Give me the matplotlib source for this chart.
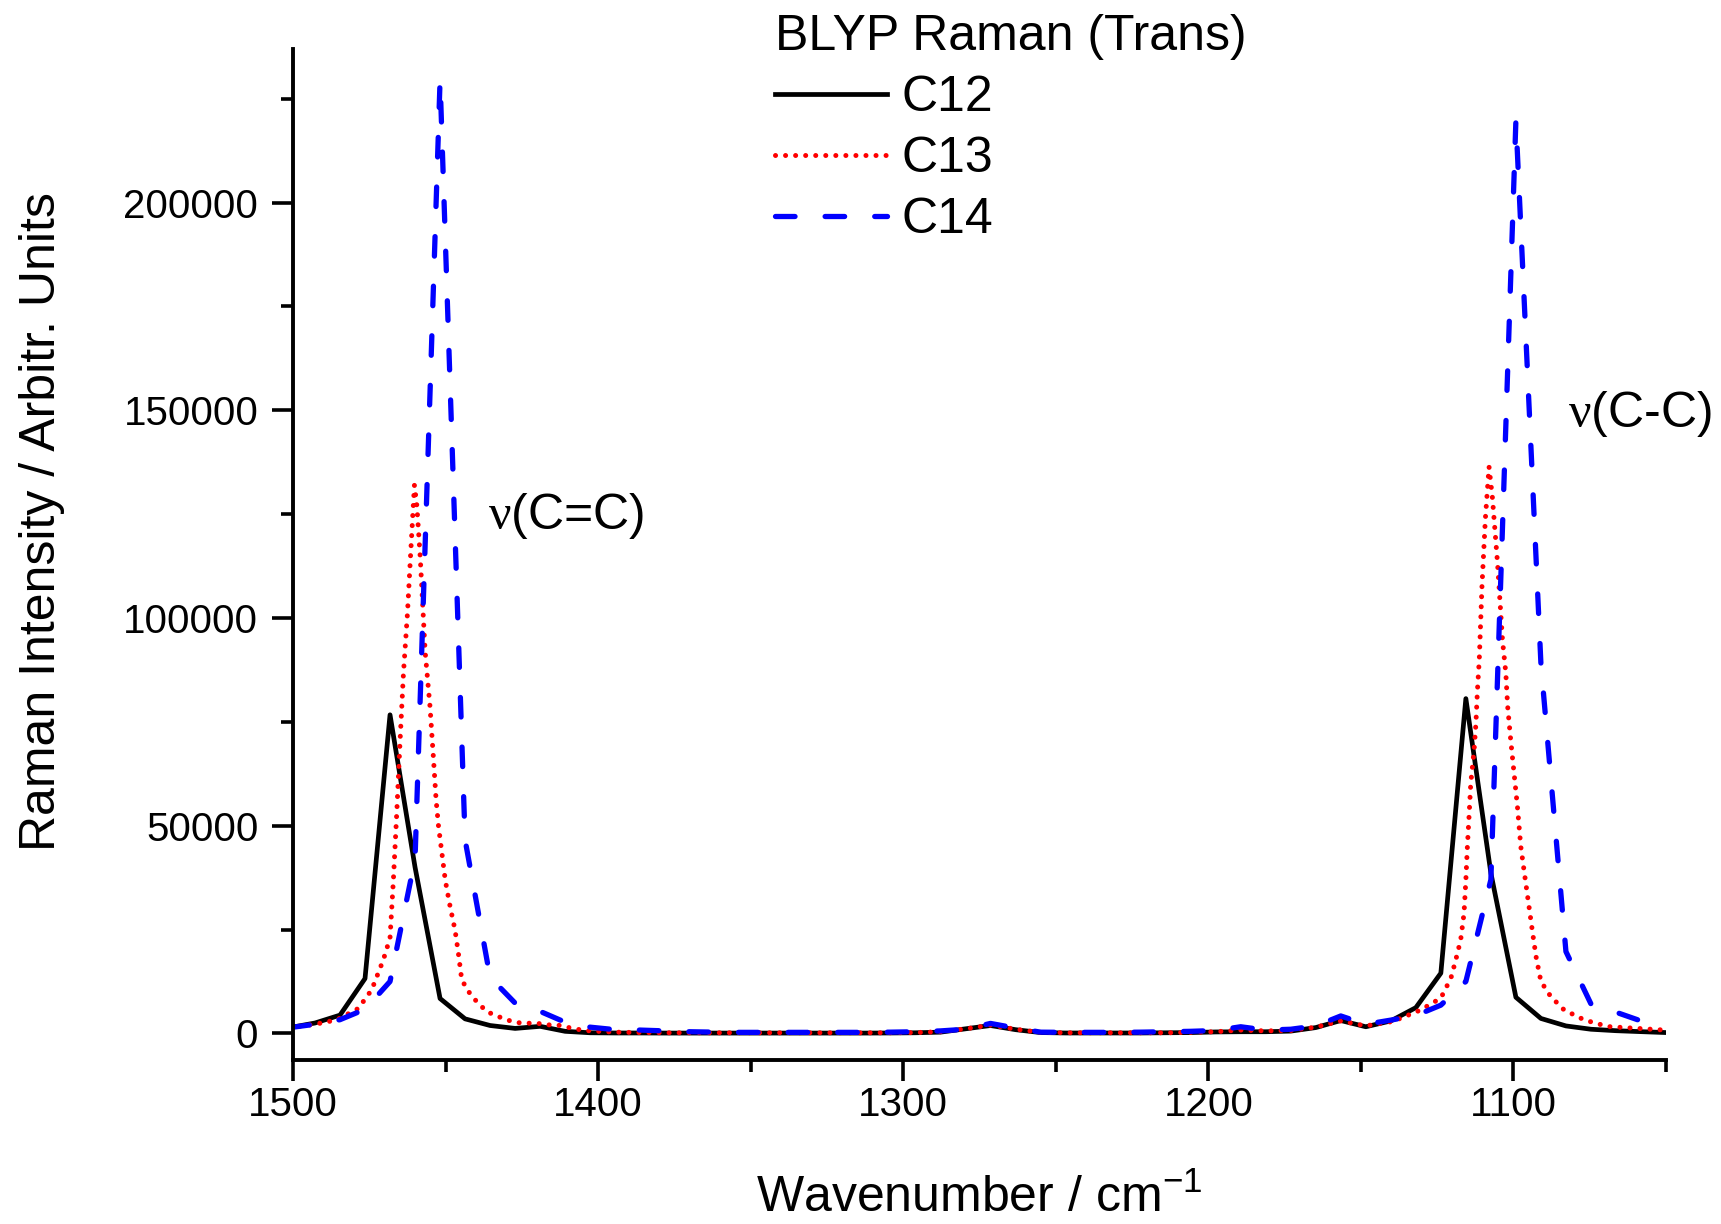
import matplotlib
matplotlib.use('Agg')
import matplotlib.pyplot as plt
from matplotlib.ticker import MultipleLocator, FormatStrFormatter

plt.rcParams['font.family'] = ['Liberation Sans', 'DejaVu Sans']
plt.rcParams['mathtext.fontset'] = 'custom'
plt.rcParams['mathtext.rm'] = 'Liberation Serif'
plt.rcParams['mathtext.sf'] = 'Liberation Sans'

# wavenumber grid shared by C12 and C14 (cm-1)
wn_grid = [1501.0, 1492.8, 1484.6, 1476.4, 1468.2, 1460.0, 1451.8, 1443.6, 1435.4, 1427.2,
           1419.0, 1410.8, 1402.6, 1394.4, 1386.2, 1378.0, 1369.8, 1361.6, 1353.4, 1345.2,
           1337.0, 1328.8, 1320.6, 1312.4, 1304.2, 1296.0, 1287.8, 1279.6, 1271.4, 1263.2,
           1255.0, 1246.8, 1238.6, 1230.4, 1222.2, 1214.0, 1205.8, 1197.6, 1189.4, 1181.2,
           1173.0, 1164.8, 1156.6, 1148.4, 1140.2, 1132.0, 1123.8, 1115.6, 1107.4, 1099.2,
           1091.0, 1082.8, 1074.6, 1066.4, 1058.2, 1050.0]

c12 = [1400, 2500, 4400, 13200, 76700, 40000, 8400, 3500, 1900, 1200,
       1700, 500, 150, 100, 100, 80, 80, 80, 80, 80,
       80, 80, 80, 80, 100, 150, 300, 1100, 1900, 900,
       200, 100, 100, 100, 100, 150, 200, 350, 400, 400,
       550, 1400, 3100, 1600, 3000, 6200, 14500, 80600, 38600, 8700,
       3600, 1800, 1000, 650, 420, 200]

c14 = [1400, 2200, 3300, 5800, 12500, 42000, 229500, 46600, 13500, 7300,
       5300, 2700, 1500, 900, 800, 600, 400, 300, 250, 250,
       250, 250, 250, 250, 300, 400, 600, 1000, 2400, 1300,
       300, 250, 250, 250, 300, 400, 500, 700, 1600, 800,
       1000, 1800, 4200, 2200, 3200, 4300, 6800, 12500, 37000, 219800,
       89000, 19700, 7100, 5100, 3000, 2000]

# C13 read more densely (smooth curve in the original)
wn_c13 = [1501.0, 1492.8, 1485.7, 1478.6, 1474.2, 1470.4, 1468.2, 1467.1, 1466.0, 1464.9,
          1463.8, 1462.5, 1461.4, 1460.2, 1459.4, 1458.3, 1456.7, 1455.1, 1454.0, 1453.1,
          1452.3, 1451.2, 1450.1, 1448.5, 1446.9, 1445.8, 1444.7, 1442.5, 1439.8, 1436.5,
          1433.2, 1429.9, 1426.6, 1423.4, 1420.1, 1416.8, 1413.5, 1410.2, 1407.0, 1402.6,
          1394.4, 1386.2, 1378.0, 1369.8, 1361.6, 1353.4, 1345.2, 1337.0, 1328.8, 1320.6,
          1312.4, 1304.2, 1296.0, 1287.8, 1279.6, 1271.4, 1263.2, 1255.0, 1246.8, 1238.6,
          1230.4, 1222.2, 1214.0, 1205.8, 1197.6, 1189.4, 1181.2, 1173.0, 1164.8, 1156.6,
          1148.4, 1140.2, 1136.9, 1130.4, 1123.8, 1120.5, 1118.9, 1117.3, 1116.2, 1115.6,
          1115.1, 1114.5, 1114.0, 1112.9, 1112.3, 1111.8, 1111.2, 1110.3, 1109.2, 1108.0,
          1106.9, 1105.2, 1103.6, 1102.5, 1101.9, 1100.9, 1099.8, 1098.7, 1097.6, 1096.1,
          1094.9, 1093.7, 1092.6, 1091.0, 1087.8, 1083.4, 1076.8, 1069.1, 1060.4, 1051.5,
          1050.0]

c13 = [1400, 2200, 3250, 6000, 10500, 17700, 23000, 36900, 53000, 70600,
       86700, 101000, 116000, 132000, 127000, 114600, 92000, 78700, 66600, 56200,
       49800, 43400, 36900, 30500, 24900, 19300, 12900, 10100, 7650, 5250,
       4200, 3250, 2600, 2450, 2450, 2050, 2050, 1500, 1000, 600,
       300, 200, 150, 150, 150, 150, 150, 150, 150, 150,
       150, 150, 200, 400, 1100, 2000, 1000, 250, 150, 150,
       150, 150, 150, 250, 400, 800, 600, 700, 1500, 3000,
       1800, 2800, 3650, 5650, 8500, 13300, 17700, 22500, 28900, 36900,
       45000, 53000, 60200, 68200, 74700, 82700, 90000, 108000, 124000, 136400,
       129000, 113000, 94700, 86700, 78700, 70600, 62600, 54600, 45000, 36900,
       30500, 24100, 18500, 12500, 8900, 5650, 3250, 1650, 1250, 850,
       800]

fig = plt.figure(figsize=(17.21, 12.24), dpi=100)
ax = fig.add_axes([0.17025, 0.134, 0.7978, 0.826])

ax.plot(wn_grid, c12, color='black', lw=3.4, label='C12')
ax.plot(wn_c13, c13, color='#ff0000', lw=3.6, linestyle=(0, (0.01, 2.0)),
        dash_capstyle='round', label='C13')
ax.plot(wn_grid, c14, color='#0000ff', lw=3.8, linestyle=(0, (3.7, 5.7)),
        dash_capstyle='round', label='C14')

ax.set_xlim(1500, 1050)
ax.set_ylim(-6400, 237000)

for side in ['top', 'right']:
    ax.spines[side].set_visible(False)
for side in ['left', 'bottom']:
    ax.spines[side].set_linewidth(2.8)

ax.xaxis.set_major_locator(MultipleLocator(100))
ax.xaxis.set_minor_locator(MultipleLocator(50))
ax.yaxis.set_major_locator(MultipleLocator(50000))
ax.yaxis.set_minor_locator(MultipleLocator(25000))
ax.yaxis.set_major_formatter(FormatStrFormatter('%d'))
ax.tick_params(which='major', length=15, width=2.6, direction='out', labelsize=29)
ax.tick_params(which='minor', length=8.6, width=2.6, direction='out')
ax.tick_params(axis='x', which='major', pad=4)
ax.tick_params(axis='y', which='major', pad=10)

ax.set_xlabel('Wavenumber / cm$^{\\mathsf{-1}}$', fontsize=36, va='baseline')
ax.xaxis.set_label_coords(0.5, -0.150)
ax.set_ylabel('Raman Intensity / Arbitr. Units', fontsize=36, va='center')
ax.yaxis.set_label_coords(-0.183, 0.533)

ax.text(1436.0, 124500, '$\\mathrm{\\nu}$(C=C)', fontsize=36, ha='left', va='center')
ax.text(1082.2, 149000, '$\\mathrm{\\nu}$(C-C)', fontsize=36, ha='left', va='center')

leg = ax.legend(title='BLYP Raman (Trans)', loc='upper left',
                bbox_to_anchor=(775 / 1721, 1 - 14 / 1224), bbox_transform=fig.transFigure,
                frameon=False, fontsize=36, title_fontsize=36, alignment='left',
                handlelength=2.24, handletextpad=0.3, labelspacing=0.3,
                borderpad=0, borderaxespad=0)

fig.savefig('out.png', dpi=100)
